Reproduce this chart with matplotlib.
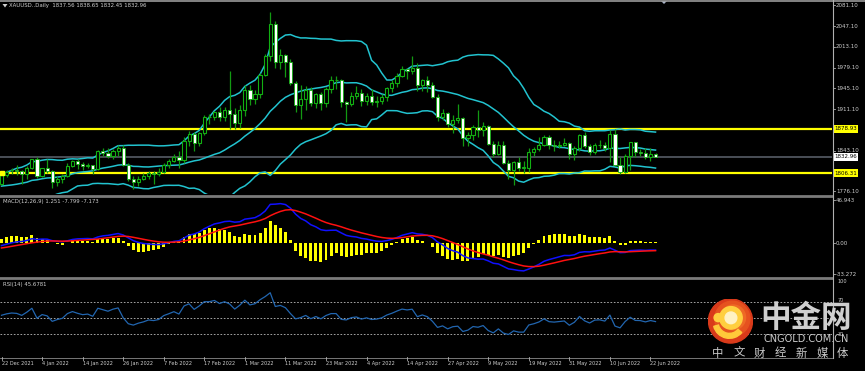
import matplotlib
matplotlib.use("Agg")
import matplotlib.pyplot as plt
import matplotlib.transforms as mtrans
from matplotlib.patches import Circle, Wedge, Polygon
import numpy as np
import pandas as pd

# ---------------- data ----------------
tick_labels = ["22 Dec 2021", "4 Jan 2022", "14 Jan 2022", "26 Jan 2022", "7 Feb 2022",
               "17 Feb 2022", "1 Mar 2022", "11 Mar 2022", "23 Mar 2022", "4 Apr 2022",
               "14 Apr 2022", "27 Apr 2022", "9 May 2022", "19 May 2022", "31 May 2022",
               "10 Jun 2022", "22 Jun 2022"]

opens = [1789, 1803, 1811, 1811, 1810, 1805, 1815, 1829, 1801, 1814, 1810, 1791, 1797, 1801, 1818, 1826,
         1821, 1817, 1819, 1813, 1843, 1839, 1835, 1843, 1848, 1820, 1797, 1791, 1797, 1801, 1807, 1805,
         1808, 1820, 1826, 1833, 1827, 1859, 1870, 1855, 1872, 1898, 1898, 1906, 1898, 1909, 1903, 1889,
         1909, 1943, 1928, 1936, 1967, 1998, 2051, 1989, 2000, 1988, 1954, 1918, 1927, 1943, 1921, 1936,
         1921, 1944, 1958, 1958, 1923, 1919, 1933, 1937, 1925, 1932, 1923, 1925, 1931, 1945, 1954, 1966,
         1977, 1974, 1978, 1950, 1958, 1951, 1931, 1898, 1904, 1886, 1894, 1896, 1863, 1868, 1881, 1877,
         1883, 1854, 1838, 1852, 1822, 1811, 1824, 1815, 1815, 1841, 1846, 1853, 1866, 1853, 1851, 1853,
         1855, 1837, 1847, 1869, 1851, 1841, 1852, 1853, 1848, 1871, 1819, 1808, 1835, 1857, 1840, 1839,
         1832, 1837.56]
highs = [1807, 1812, 1814, 1820, 1812, 1817, 1830, 1832, 1815, 1830, 1811, 1801, 1804, 1822, 1828, 1830,
         1825, 1823, 1820, 1844, 1848, 1847, 1845, 1853, 1853, 1823, 1801, 1802, 1807, 1810, 1809, 1815,
         1822, 1829, 1837, 1843, 1865, 1875, 1873, 1873, 1902, 1903, 1908, 1914, 1914, 1974, 1913, 1917,
         1950, 1950, 1943, 1970, 2002, 2070, 2056, 2010, 2001, 1993, 1957, 1950, 1949, 1947, 1937, 1939,
         1947, 1966, 1966, 1960, 1924, 1939, 1949, 1944, 1937, 1944, 1932, 1936, 1948, 1959, 1971, 1981,
         1978, 1998, 1987, 1960, 1966, 1956, 1936, 1911, 1907, 1902, 1920, 1898, 1874, 1885, 1910, 1890,
         1885, 1859, 1859, 1858, 1828, 1826, 1832, 1826, 1847, 1849, 1865, 1869, 1869, 1860, 1858, 1863,
         1857, 1850, 1870, 1874, 1854, 1855, 1860, 1857, 1876, 1878, 1832, 1837, 1857, 1857, 1845, 1847,
         1847, 1838.65]
lows = [1786, 1800, 1805, 1803, 1789, 1797, 1813, 1798, 1799, 1807, 1782, 1785, 1790, 1800, 1816, 1813,
        1811, 1814, 1805, 1811, 1834, 1831, 1830, 1835, 1817, 1794, 1780, 1785, 1795, 1797, 1788, 1801,
        1806, 1815, 1825, 1814, 1822, 1850, 1842, 1850, 1869, 1886, 1894, 1892, 1892, 1878, 1878, 1880,
        1900, 1918, 1920, 1930, 1966, 1990, 1979, 1976, 1963, 1950, 1906, 1895, 1909, 1916, 1913, 1910,
        1915, 1938, 1944, 1914, 1890, 1916, 1927, 1916, 1918, 1917, 1915, 1920, 1924, 1939, 1948, 1963,
        1960, 1969, 1941, 1940, 1939, 1929, 1891, 1893, 1882, 1872, 1889, 1850, 1850, 1860, 1865, 1867,
        1852, 1832, 1836, 1821, 1797, 1787, 1810, 1807, 1808, 1834, 1843, 1850, 1846, 1843, 1848, 1850,
        1829, 1828, 1843, 1848, 1836, 1837, 1847, 1843, 1825, 1818, 1805, 1806, 1811, 1832, 1834, 1830,
        1826, 1832.45]
closes = [1803, 1808, 1811, 1810, 1805, 1815, 1829, 1801, 1814, 1810, 1791, 1797, 1801, 1818, 1826, 1821,
          1817, 1819, 1813, 1843, 1839, 1835, 1843, 1848, 1820, 1797, 1791, 1797, 1801, 1807, 1805, 1808,
          1820, 1826, 1833, 1827, 1859, 1870, 1855, 1872, 1898, 1898, 1906, 1898, 1909, 1903, 1889, 1909,
          1943, 1928, 1936, 1967, 1998, 2051, 1989, 2000, 1988, 1954, 1918, 1927, 1943, 1921, 1936, 1921,
          1944, 1958, 1958, 1923, 1919, 1933, 1937, 1925, 1932, 1923, 1925, 1931, 1945, 1954, 1966, 1977,
          1974, 1978, 1950, 1958, 1951, 1931, 1898, 1904, 1886, 1894, 1896, 1863, 1868, 1881, 1877, 1883,
          1854, 1838, 1852, 1822, 1811, 1824, 1815, 1815, 1841, 1846, 1853, 1866, 1853, 1851, 1853, 1855,
          1837, 1847, 1869, 1851, 1841, 1852, 1853, 1848, 1871, 1819, 1808, 1835, 1857, 1840, 1839, 1832,
          1838, 1832.96]
# closes before the first visible bar (needed only to warm up the indicators)
prior_closes = [1814, 1810, 1827, 1823, 1794, 1789, 1794, 1787, 1793, 1804, 1794, 1754, 1754, 1764, 1774,
                1768, 1743, 1750, 1750, 1734, 1726, 1757,
                1761, 1769, 1760, 1762, 1756, 1757, 1754, 1760, 1793, 1796, 1768, 1765, 1769, 1782, 1783,
                1793, 1806, 1793, 1797, 1801, 1783,
                1793, 1788, 1769, 1792, 1818, 1824, 1832, 1849, 1862, 1865, 1863, 1852, 1868, 1858, 1846,
                1805, 1790, 1788, 1790, 1792, 1785, 1774,
                1781, 1768, 1783, 1779, 1785, 1783, 1775, 1782, 1787, 1771, 1777, 1798, 1804, 1791, 1789]
hlines_price = [1878.93, 1806.31]
last_price = 1832.96
price_ticks = [2081.10, 2047.10, 2013.10, 1979.10, 1945.10, 1911.10, 1843.10, 1776.10]
macd_ticks = [46.943, 0.0, -33.272]
rsi_levels = [70, 50, 30]

# ---------------- indicators (derived from closes) ----------------
allc = pd.Series(prior_closes + closes, dtype=float)
npre = len(prior_closes)
ma = allc.rolling(20).mean()
sd = allc.rolling(20).std(ddof=0)
bb_mid = ma.values[npre:]
bb_up = (ma + 2 * sd).values[npre:]
bb_lo = (ma - 2 * sd).values[npre:]
ema12 = allc.ewm(span=12, adjust=False).mean()
ema26 = allc.ewm(span=26, adjust=False).mean()
macd_all = ema12 - ema26
sig_all = macd_all.ewm(span=9, adjust=False).mean()
macd = macd_all.values[npre:]
sig = sig_all.values[npre:]
hist = 2 * (macd - sig)
delta = allc.diff()
up = delta.clip(lower=0).ewm(alpha=1 / 14, adjust=False).mean()
dn = (-delta.clip(upper=0)).ewm(alpha=1 / 14, adjust=False).mean()
rsi = (100 - 100 / (1 + up / dn)).values[npre:]

n = len(closes)
xs = np.arange(n)

# ---------------- figure ----------------
W, H = 865, 371
fig = plt.figure(figsize=(W / 100, H / 100), dpi=100, facecolor="black")
plt.rcParams["font.family"] = ["DejaVu Sans"]

PX = 5.07
XL = (-1.5 / PX, (832 - 1.5) / PX)


def fax(top, bottom):
    return fig.add_axes([0, 1 - bottom / H, 832 / W, (bottom - top) / H])


axp = fax(2, 194)
axm = fax(197, 277)
axr = fax(279, 357)
for a in (axp, axm, axr):
    a.set_facecolor("black")
    a.set_xlim(*XL)
    a.set_xticks([])
    a.set_yticks([])
    for s in a.spines.values():
        s.set_visible(False)

axp.set_ylim(1771.9, 2086.6)
axm.set_ylim(-36.4, 50.5)
axr.set_ylim(1.6, 99.1)

GREEN = "#12b012"
WICK = "#129a12"
CYAN = "#22c3cf"
TXT = "#cfcfcf"

# Bollinger bands
for band in (bb_up, bb_mid, bb_lo):
    axp.plot(xs, band, color=CYAN, lw=1.1, zorder=2)

# horizontal lines
for hp in hlines_price:
    axp.axhline(hp, color="#ffff00", lw=1.6, zorder=1)
axp.axhline(last_price, color="#4a4f57", lw=1.4, zorder=0.5)
axp.plot([0.15], [hlines_price[1]], marker="s", ms=3, color="#ffff00", clip_on=False, zorder=5)

# candles
o = np.array(opens); h = np.array(highs); l = np.array(lows); c = np.array(closes)
axp.vlines(xs, l, h, color=WICK, lw=0.9, zorder=3)
bull = c >= o
bot = np.minimum(o, c)
hgt = np.maximum(np.abs(c - o), 0.8)
axp.bar(xs[bull], hgt[bull], bottom=bot[bull], width=0.62, facecolor="black",
        edgecolor=GREEN, lw=0.8, zorder=4)
axp.bar(xs[~bull], hgt[~bull], bottom=bot[~bull], width=0.62, facecolor="white",
        edgecolor=GREEN, lw=0.6, zorder=4)

# MACD panel
axm.bar(xs, hist, width=0.58, color="#ffff00", zorder=2)
axm.plot(xs, macd, color="#1010ff", lw=1.1, zorder=3)
axm.plot(xs, sig, color="#ff1010", lw=1.1, zorder=3)

# RSI panel
for lv in rsi_levels:
    axr.axhline(lv, color="#bdbdbd", lw=0.6, ls=(0, (2, 2)), zorder=1)
axr.plot(xs, rsi, color="#2266b0", lw=0.9, zorder=2)


# ---------------- frame lines ----------------
def fline(x0, y0, x1, y1, color, lw):
    fig.add_artist(plt.Line2D([x0 / W, x1 / W], [1 - y0 / H, 1 - y1 / H], color=color, lw=lw,
                              transform=fig.transFigure))


fline(0, 0.6, W, 0.6, "#9a9a9a", 1.2)
fline(0, 195.5, 832, 195.5, "#7a7a7a", 2.0)
fline(0, 278, 832, 278, "#7a7a7a", 2.0)
fline(832.5, 0, 832.5, 358, "#b0b0b0", 0.8)
fline(0, 357.5, 832, 357.5, "#8a8a8a", 0.6)

# ---------------- labels ----------------
fs = 4.0


def right_labels(ax, vals, fmt):
    tr = mtrans.blended_transform_factory(fig.transFigure, ax.transData)
    for v in vals:
        ax.text(836 / W, v, fmt(v), transform=tr, color=TXT, fontsize=fs, va="center",
                ha="left", clip_on=False)
        ax.plot([832.5 / W, 835 / W], [v, v], transform=tr, color="#b0b0b0", lw=0.6,
                clip_on=False)


right_labels(axp, price_ticks, lambda v: f"{v:.2f}")
right_labels(axm, macd_ticks, lambda v: f"{v:.3f}" if v != 0 else "0.00")
tr_r = mtrans.blended_transform_factory(fig.transFigure, axr.transData)
for v, s in ((95.5, "100"), (72.5, "70"), (30, "30")):
    axr.text(838 / W, v, s, transform=tr_r, color=TXT, fontsize=3.6, va="center", ha="left",
             clip_on=False, zorder=1)

trp = mtrans.blended_transform_factory(fig.transFigure, axp.transData)
for v, fc in ((hlines_price[0], "#ffff00"), (hlines_price[1], "#ffff00"), (last_price, "white")):
    axp.text(834 / W, v, f"{v:.2f}", transform=trp, color="black", fontsize=fs, va="center",
             ha="left", clip_on=False, zorder=6,
             bbox=dict(boxstyle="square,pad=0.25", fc=fc, ec="none"))

# title texts
fig.text(9 / W, 1 - 5.5 / H, "XAUUSD..Daily  1837.56 1838.65 1832.45 1832.96", color=TXT,
         fontsize=3.9, va="center", ha="left")
fig.add_artist(Polygon([[2.5 / W, 1 - 4 / H], [7.5 / W, 1 - 4 / H], [5 / W, 1 - 7.5 / H]],
                       closed=True, transform=fig.transFigure, color=TXT, lw=0))
fig.text(3 / W, 1 - 201.5 / H, "MACD(12,26,9) 1.251 -7.799 -7.173", color=TXT, fontsize=3.9,
         va="center", ha="left")
fig.text(3 / W, 1 - 284.5 / H, "RSI(14) 45.6781", color=TXT, fontsize=3.9, va="center",
         ha="left")
fig.add_artist(Polygon([[661 / W, 1 - 1 / H], [667 / W, 1 - 1 / H], [664 / W, 1 - 4 / H]],
                       closed=True, transform=fig.transFigure, color="#aab4c8", lw=0))

# date labels
for k, lab in enumerate(tick_labels):
    xpx = 1.5 + PX * (8 * k)
    fig.text(xpx / W, 1 - 363.5 / H, lab, color=TXT, fontsize=3.6, va="center", ha="left")
    fline(xpx, 357, xpx, 359.5, "#b0b0b0", 0.6)

# ---------------- watermark logo ----------------
cx, cy, r = 730.5, 321, 22.5
ax_logo = fig.add_axes([(cx - r) / W, 1 - (cy + r) / H, 2 * r / W, 2 * r / H], zorder=11)
ax_logo.set_xlim(-1, 1); ax_logo.set_ylim(-1, 1); ax_logo.axis("off")
ax_logo.patch.set_alpha(0)
ax_logo.add_patch(Circle((0, 0), 0.98, color="#d93a1a"))
ax_logo.add_patch(Circle((0.08, 0.1), 0.78, color="#e6521f"))
ax_logo.add_patch(Circle((0.12, 0.16), 0.55, color="#ee6a26"))
# "cloud 9" swirl
ax_logo.add_patch(Wedge((0.02, 0.14), 0.5, 0, 360, width=0.24, color="#ffcf3f"))
ax_logo.add_patch(Circle((0.02, 0.14), 0.26, color="#fff2c4"))
ax_logo.add_patch(Wedge((-0.05, -0.05), 0.72, 195, 320, width=0.22, color="#ffc93a"))
ax_logo.add_patch(Circle((-0.55, 0.15), 0.18, color="#ffcf3f"))

cjk = ["Noto Sans CJK SC", "DejaVu Sans"]
fig.text(806 / W, 1 - 318 / H, "中金网", family=cjk, fontsize=22, fontweight="bold",
         color="#cfcfcf", ha="center", va="center", zorder=12)
fig.text(806 / W, 1 - 338.5 / H, "CNGOLD.COM.CN", family=["DejaVu Sans"], fontsize=7.0,
         color="#cccccc", ha="center", va="center", zorder=12)
for k, ch in enumerate("中文财经新媒体"):
    fig.text((718 + 20.8 * k) / W, 1 - 353 / H, ch, family=cjk, fontsize=8.2,
             color="#cccccc", ha="center", va="center", zorder=12)

fig.savefig("out.png", dpi=100, facecolor="black")
